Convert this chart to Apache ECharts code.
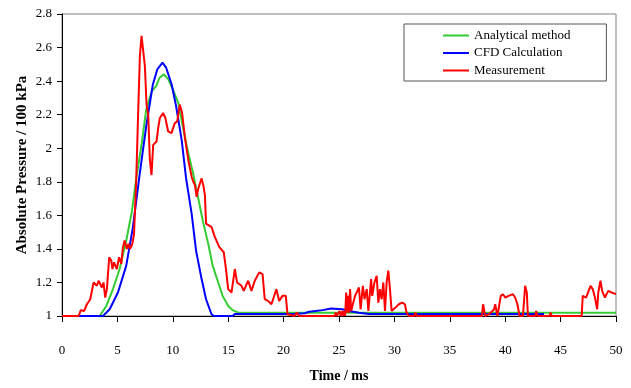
<!DOCTYPE html>
<html>
<head>
<meta charset="utf-8">
<script src="https://cdn.jsdelivr.net/npm/echarts@6/dist/echarts.min.js"></script>
<style>
html,body{margin:0;padding:0;background:#fff;}
#chart{width:631px;height:388px;}
</style>
</head>
<body>
<div id="chart"></div>
<script>
var seriesNames = ['Analytical method', 'CFD Calculation', 'Measurement'];

var analyticalData = [
  [0,1.0],[3.4,1.0],[4.0,1.06],[4.6,1.16],[5.2,1.28],[5.8,1.45],[6.3,1.62],[6.7,1.82],
  [7.2,2.03],[7.6,2.23],[8.1,2.34],[8.5,2.37],[8.8,2.42],[9.2,2.44],[9.6,2.41],[10.0,2.35],
  [10.5,2.27],[10.9,2.13],[11.4,1.97],[11.8,1.86],[12.3,1.7],[12.7,1.57],[13.2,1.43],
  [13.6,1.3],[14.1,1.2],[14.5,1.12],[15.0,1.06],[15.4,1.035],[15.9,1.02],[50,1.02]
];

var cfdData = [
  [0,1.0],[3.7,1.0],[4.3,1.04],[5.05,1.14],[5.8,1.3],[6.4,1.53],[7.0,1.84],[7.6,2.13],
  [8.2,2.38],[8.6,2.47],[9.07,2.51],[9.4,2.48],[9.9,2.38],[10.3,2.25],[10.8,2.05],
  [11.2,1.82],[11.7,1.61],[12.1,1.39],[12.6,1.22],[13.0,1.1],[13.5,1.01],[13.7,1.0],
  [15.4,1.0],[15.6,1.012],[20.8,1.012],[21.9,1.016],[22.3,1.025],[22.9,1.03],[23.5,1.035],
  [24.3,1.045],[25.3,1.04],[25.9,1.03],[26.8,1.02],[27.7,1.012],[43.5,1.012]
];

var measurementData = [
  [0,1.0],[1.5,1.0],[1.7,1.035],[2.0,1.03],[2.25,1.07],[2.55,1.1],[2.85,1.2],[3.15,1.18],
  [3.3,1.21],[3.6,1.17],[3.75,1.2],[3.9,1.11],[4.05,1.16],[4.26,1.35],[4.45,1.33],
  [4.55,1.28],[4.7,1.32],[4.95,1.28],[5.15,1.35],[5.35,1.31],[5.5,1.41],[5.65,1.45],
  [5.85,1.4],[6.0,1.43],[6.15,1.4],[6.35,1.43],[6.5,1.49],[6.7,1.81],[6.85,2.16],
  [7.03,2.55],[7.18,2.67],[7.33,2.66],[7.48,2.49],[7.63,2.26],[7.78,2.2],[7.93,1.93],
  [8.08,1.84],[8.23,2.02],[8.53,2.04],[8.68,2.12],[8.83,2.18],[9.13,2.21],[9.33,2.18],
  [9.58,2.1],[9.88,2.09],[10.18,2.15],[10.4,2.16],[10.63,2.26],[10.84,2.21],[11.1,2.06],
  [11.4,1.93],[11.7,1.83],[11.85,1.8],[12.0,1.78],[12.15,1.71],[12.3,1.76],[12.6,1.82],
  [12.75,1.78],[12.9,1.72],[13.0,1.55],[13.5,1.53],[13.8,1.47],[14.2,1.41],[14.6,1.38],
  [14.8,1.28],[15.0,1.16],[15.3,1.14],[15.6,1.28],[15.8,1.2],[16.2,1.18],[16.4,1.15],
  [16.8,1.21],[17.1,1.15],[17.4,1.21],[17.8,1.26],[18.1,1.25],[18.3,1.1],[18.6,1.09],
  [18.9,1.07],[19.2,1.13],[19.35,1.16],[19.6,1.09],[19.9,1.12],[20.2,1.12],[20.35,1.01],
  [20.5,1.0],[21.0,1.0],[21.2,1.02],[21.4,1.0],[24.6,1.0],[24.7,1.02],[24.8,1.0],
  [25.05,1.03],[25.15,1.0],[25.3,1.03],[25.4,1.0],[25.5,1.03],[25.55,1.0],[25.65,1.14],
  [25.75,1.02],[25.8,1.12],[25.9,1.02],[26.0,1.16],[26.1,1.03],[26.25,1.07],[26.45,1.12],
  [26.8,1.17],[26.95,1.04],[27.15,1.18],[27.3,1.1],[27.5,1.16],[27.65,1.03],[27.9,1.22],
  [28.0,1.12],[28.2,1.2],[28.4,1.24],[28.55,1.08],[28.7,1.16],[28.85,1.1],[29.0,1.2],
  [29.15,1.03],[29.3,1.2],[29.45,1.27],[29.6,1.16],[29.75,1.03],[29.9,1.02],[30.1,1.05],
  [30.4,1.07],[30.7,1.08],[30.95,1.07],[31.1,1.02],[31.3,1.0],[31.8,1.0],[31.9,1.02],
  [32.0,1.0],[37.9,1.0],[38.0,1.07],[38.2,1.0],[38.5,1.01],[38.7,1.02],[39.0,1.04],
  [39.1,1.07],[39.3,1.0],[39.6,1.12],[39.8,1.13],[40.0,1.11],[40.3,1.12],[40.7,1.13],
  [40.9,1.11],[41.1,1.07],[41.3,1.0],[41.6,1.0],[41.8,1.18],[41.95,1.14],[42.05,1.0],
  [42.7,1.0],[42.8,1.03],[42.9,1.0],[44.0,1.0],[44.1,1.02],[44.2,1.0],[46.9,1.0],
  [47.0,1.12],[47.3,1.11],[47.7,1.18],[47.9,1.16],[48.1,1.11],[48.3,1.04],[48.4,1.14],
  [48.6,1.21],[48.75,1.15],[49.0,1.11],[49.3,1.15],[49.6,1.14],[50,1.13]
];

var seriesColors = ['#33cc33', '#0000ff', '#ff0000'];
var seriesData = [analyticalData, cfdData, measurementData];

var serif = '"Liberation Serif", "Times New Roman", serif';
var chart = echarts.init(document.getElementById('chart'), null, {renderer: 'canvas'});

chart.setOption({
  animation: false,
  backgroundColor: '#ffffff',
  grid: {
    left: 62, right: 15, top: 14, bottom: 64,
    show: true, borderColor: '#808080', borderWidth: 1
  },
  legend: {
    orient: 'vertical',
    left: 404, top: 24,
    padding: [5, 36, 4, 39],
    borderColor: '#555555', borderWidth: 1,
    backgroundColor: '#ffffff',
    icon: 'rect',
    itemWidth: 26, itemHeight: 2, itemGap: 4.5,
    textStyle: {fontFamily: serif, fontSize: 13, lineHeight: 12, color: '#000'},
    data: seriesNames
  },
  xAxis: {
    type: 'value', min: 0, max: 50, interval: 5,
    name: 'Time / ms', nameLocation: 'middle', nameGap: 53,
    nameMoveOverlap: false,
    nameTextStyle: {fontFamily: serif, fontSize: 14, fontWeight: 'bold', color: '#000'},
    axisLine: {lineStyle: {color: '#000', width: 1}},
    axisTick: {show: true, inside: false, length: 6, lineStyle: {color: '#000'}},
    axisLabel: {margin: 28, fontFamily: serif, fontSize: 13, color: '#000'},
    splitLine: {show: false}
  },
  yAxis: {
    type: 'value', min: 1, max: 2.8, interval: 0.2,
    name: 'Absolute Pressure / 100 kPa', nameLocation: 'middle', nameGap: 32, nameRotate: 90,
    nameMoveOverlap: false,
    nameTextStyle: {fontFamily: serif, fontSize: 15, fontWeight: 'bold', color: '#000'},
    axisLine: {show: true, lineStyle: {color: '#000', width: 1}},
    axisTick: {show: true, inside: false, length: 5, lineStyle: {color: '#000'}},
    axisLabel: {margin: 10, fontFamily: serif, fontSize: 13, color: '#000'},
    splitLine: {show: false}
  },
  series: seriesNames.map(function (name, i) {
    return {
      name: name,
      type: 'line',
      data: seriesData[i],
      symbol: 'none',
      showSymbol: false,
      lineStyle: {color: seriesColors[i], width: 2},
      itemStyle: {color: seriesColors[i]},
      z: 2 + i
    };
  })
});
</script>
</body>
</html>
